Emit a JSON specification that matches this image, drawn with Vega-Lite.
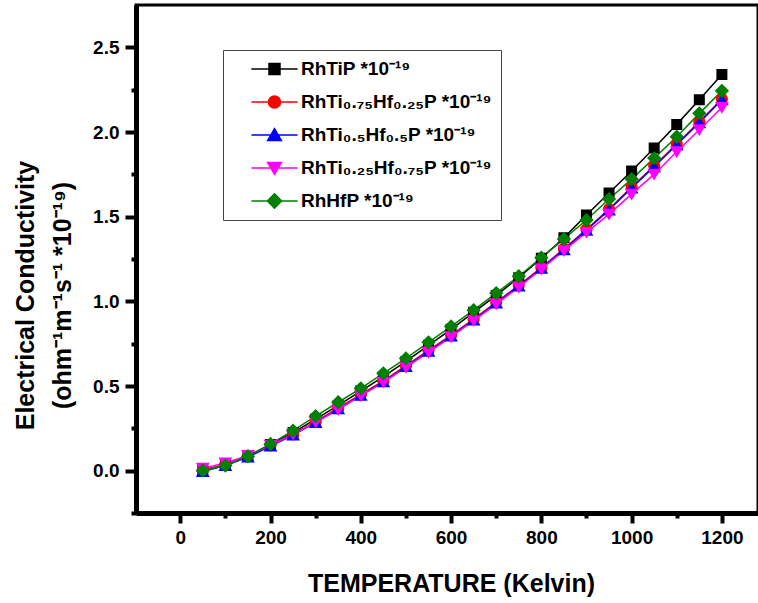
{
  "$schema": "https://vega.github.io/schema/vega-lite/v6.json",
  "width": 622,
  "height": 508,
  "autosize": {"type": "none"},
  "padding": {"left": 136, "top": 5, "right": 0, "bottom": 90},
  "background": "white",
  "config": {
    "view": {"stroke": "black", "strokeWidth": 3},
    "font": "Liberation Sans",
    "axis": {
      "grid": false,
      "domainColor": "black",
      "domainWidth": 5,
      "tickColor": "black",
      "tickWidth": 4,
      "labelFont": "Liberation Sans",
      "labelFontWeight": "bold",
      "labelFontSize": 19,
      "labelColor": "black",
      "labelPadding": 5,
      "titleFont": "Liberation Sans",
      "titleFontWeight": "bold",
      "titleColor": "black",
      "titleFontSize": 25
    },
    "legend": {
      "orient": "none",
      "legendX": 87,
      "legendY": 45,
      "title": null,
      "strokeColor": "#444444",
      "padding": 9,
      "symbolOffset": 33,
      "symbolSize": 121,
      "symbolStrokeWidth": 1.5,
      "labelOffset": 17,
      "labelFont": "Liberation Sans",
      "labelFontWeight": "bold",
      "labelFontSize": 19,
      "labelColor": "black",
      "labelLimit": 0,
      "clipHeight": 20,
      "rowPadding": 13
    }
  },
  "data": {
    "values": [
      {"material": "RhTiP", "temperature": 50, "sigma": 0.005},
      {"material": "RhTiP", "temperature": 100, "sigma": 0.03},
      {"material": "RhTiP", "temperature": 150, "sigma": 0.085},
      {"material": "RhTiP", "temperature": 200, "sigma": 0.155},
      {"material": "RhTiP", "temperature": 250, "sigma": 0.225},
      {"material": "RhTiP", "temperature": 300, "sigma": 0.305},
      {"material": "RhTiP", "temperature": 350, "sigma": 0.385},
      {"material": "RhTiP", "temperature": 400, "sigma": 0.47},
      {"material": "RhTiP", "temperature": 450, "sigma": 0.555},
      {"material": "RhTiP", "temperature": 500, "sigma": 0.645},
      {"material": "RhTiP", "temperature": 550, "sigma": 0.74},
      {"material": "RhTiP", "temperature": 600, "sigma": 0.835},
      {"material": "RhTiP", "temperature": 650, "sigma": 0.935},
      {"material": "RhTiP", "temperature": 700, "sigma": 1.035},
      {"material": "RhTiP", "temperature": 750, "sigma": 1.14},
      {"material": "RhTiP", "temperature": 800, "sigma": 1.255},
      {"material": "RhTiP", "temperature": 850, "sigma": 1.375},
      {"material": "RhTiP", "temperature": 900, "sigma": 1.51},
      {"material": "RhTiP", "temperature": 950, "sigma": 1.64},
      {"material": "RhTiP", "temperature": 1000, "sigma": 1.77},
      {"material": "RhTiP", "temperature": 1050, "sigma": 1.905},
      {"material": "RhTiP", "temperature": 1100, "sigma": 2.045},
      {"material": "RhTiP", "temperature": 1150, "sigma": 2.19},
      {"material": "RhTiP", "temperature": 1200, "sigma": 2.34},
      {"material": "RhTi0.75Hf0.25P", "temperature": 50, "sigma": 0.005},
      {"material": "RhTi0.75Hf0.25P", "temperature": 100, "sigma": 0.035},
      {"material": "RhTi0.75Hf0.25P", "temperature": 150, "sigma": 0.085},
      {"material": "RhTi0.75Hf0.25P", "temperature": 200, "sigma": 0.15},
      {"material": "RhTi0.75Hf0.25P", "temperature": 250, "sigma": 0.215},
      {"material": "RhTi0.75Hf0.25P", "temperature": 300, "sigma": 0.29},
      {"material": "RhTi0.75Hf0.25P", "temperature": 350, "sigma": 0.37},
      {"material": "RhTi0.75Hf0.25P", "temperature": 400, "sigma": 0.45},
      {"material": "RhTi0.75Hf0.25P", "temperature": 450, "sigma": 0.53},
      {"material": "RhTi0.75Hf0.25P", "temperature": 500, "sigma": 0.62},
      {"material": "RhTi0.75Hf0.25P", "temperature": 550, "sigma": 0.71},
      {"material": "RhTi0.75Hf0.25P", "temperature": 600, "sigma": 0.8},
      {"material": "RhTi0.75Hf0.25P", "temperature": 650, "sigma": 0.895},
      {"material": "RhTi0.75Hf0.25P", "temperature": 700, "sigma": 0.995},
      {"material": "RhTi0.75Hf0.25P", "temperature": 750, "sigma": 1.095},
      {"material": "RhTi0.75Hf0.25P", "temperature": 800, "sigma": 1.2},
      {"material": "RhTi0.75Hf0.25P", "temperature": 850, "sigma": 1.31},
      {"material": "RhTi0.75Hf0.25P", "temperature": 900, "sigma": 1.425},
      {"material": "RhTi0.75Hf0.25P", "temperature": 950, "sigma": 1.545},
      {"material": "RhTi0.75Hf0.25P", "temperature": 1000, "sigma": 1.675},
      {"material": "RhTi0.75Hf0.25P", "temperature": 1050, "sigma": 1.8},
      {"material": "RhTi0.75Hf0.25P", "temperature": 1100, "sigma": 1.93},
      {"material": "RhTi0.75Hf0.25P", "temperature": 1150, "sigma": 2.06},
      {"material": "RhTi0.75Hf0.25P", "temperature": 1200, "sigma": 2.195},
      {"material": "RhTi0.5Hf0.5P", "temperature": 50, "sigma": -0.005},
      {"material": "RhTi0.5Hf0.5P", "temperature": 100, "sigma": 0.03},
      {"material": "RhTi0.5Hf0.5P", "temperature": 150, "sigma": 0.08},
      {"material": "RhTi0.5Hf0.5P", "temperature": 200, "sigma": 0.145},
      {"material": "RhTi0.5Hf0.5P", "temperature": 250, "sigma": 0.21},
      {"material": "RhTi0.5Hf0.5P", "temperature": 300, "sigma": 0.285},
      {"material": "RhTi0.5Hf0.5P", "temperature": 350, "sigma": 0.365},
      {"material": "RhTi0.5Hf0.5P", "temperature": 400, "sigma": 0.445},
      {"material": "RhTi0.5Hf0.5P", "temperature": 450, "sigma": 0.525},
      {"material": "RhTi0.5Hf0.5P", "temperature": 500, "sigma": 0.615},
      {"material": "RhTi0.5Hf0.5P", "temperature": 550, "sigma": 0.705},
      {"material": "RhTi0.5Hf0.5P", "temperature": 600, "sigma": 0.795},
      {"material": "RhTi0.5Hf0.5P", "temperature": 650, "sigma": 0.89},
      {"material": "RhTi0.5Hf0.5P", "temperature": 700, "sigma": 0.99},
      {"material": "RhTi0.5Hf0.5P", "temperature": 750, "sigma": 1.09},
      {"material": "RhTi0.5Hf0.5P", "temperature": 800, "sigma": 1.195},
      {"material": "RhTi0.5Hf0.5P", "temperature": 850, "sigma": 1.305},
      {"material": "RhTi0.5Hf0.5P", "temperature": 900, "sigma": 1.42},
      {"material": "RhTi0.5Hf0.5P", "temperature": 950, "sigma": 1.54},
      {"material": "RhTi0.5Hf0.5P", "temperature": 1000, "sigma": 1.67},
      {"material": "RhTi0.5Hf0.5P", "temperature": 1050, "sigma": 1.795},
      {"material": "RhTi0.5Hf0.5P", "temperature": 1100, "sigma": 1.925},
      {"material": "RhTi0.5Hf0.5P", "temperature": 1150, "sigma": 2.055},
      {"material": "RhTi0.5Hf0.5P", "temperature": 1200, "sigma": 2.19},
      {"material": "RhTi0.25Hf0.75P", "temperature": 50, "sigma": 0.015},
      {"material": "RhTi0.25Hf0.75P", "temperature": 100, "sigma": 0.045},
      {"material": "RhTi0.25Hf0.75P", "temperature": 150, "sigma": 0.09},
      {"material": "RhTi0.25Hf0.75P", "temperature": 200, "sigma": 0.15},
      {"material": "RhTi0.25Hf0.75P", "temperature": 250, "sigma": 0.215},
      {"material": "RhTi0.25Hf0.75P", "temperature": 300, "sigma": 0.286},
      {"material": "RhTi0.25Hf0.75P", "temperature": 350, "sigma": 0.36},
      {"material": "RhTi0.25Hf0.75P", "temperature": 400, "sigma": 0.443},
      {"material": "RhTi0.25Hf0.75P", "temperature": 450, "sigma": 0.522},
      {"material": "RhTi0.25Hf0.75P", "temperature": 500, "sigma": 0.61},
      {"material": "RhTi0.25Hf0.75P", "temperature": 550, "sigma": 0.699},
      {"material": "RhTi0.25Hf0.75P", "temperature": 600, "sigma": 0.79},
      {"material": "RhTi0.25Hf0.75P", "temperature": 650, "sigma": 0.886},
      {"material": "RhTi0.25Hf0.75P", "temperature": 700, "sigma": 0.984},
      {"material": "RhTi0.25Hf0.75P", "temperature": 750, "sigma": 1.083},
      {"material": "RhTi0.25Hf0.75P", "temperature": 800, "sigma": 1.19},
      {"material": "RhTi0.25Hf0.75P", "temperature": 850, "sigma": 1.299},
      {"material": "RhTi0.25Hf0.75P", "temperature": 900, "sigma": 1.407},
      {"material": "RhTi0.25Hf0.75P", "temperature": 950, "sigma": 1.515},
      {"material": "RhTi0.25Hf0.75P", "temperature": 1000, "sigma": 1.633},
      {"material": "RhTi0.25Hf0.75P", "temperature": 1050, "sigma": 1.751},
      {"material": "RhTi0.25Hf0.75P", "temperature": 1100, "sigma": 1.883},
      {"material": "RhTi0.25Hf0.75P", "temperature": 1150, "sigma": 2.013},
      {"material": "RhTi0.25Hf0.75P", "temperature": 1200, "sigma": 2.145},
      {"material": "RhHfP", "temperature": 50, "sigma": 0.0},
      {"material": "RhHfP", "temperature": 100, "sigma": 0.03},
      {"material": "RhHfP", "temperature": 150, "sigma": 0.085},
      {"material": "RhHfP", "temperature": 200, "sigma": 0.158},
      {"material": "RhHfP", "temperature": 250, "sigma": 0.236},
      {"material": "RhHfP", "temperature": 300, "sigma": 0.322},
      {"material": "RhHfP", "temperature": 350, "sigma": 0.404},
      {"material": "RhHfP", "temperature": 400, "sigma": 0.486},
      {"material": "RhHfP", "temperature": 450, "sigma": 0.575},
      {"material": "RhHfP", "temperature": 500, "sigma": 0.663},
      {"material": "RhHfP", "temperature": 550, "sigma": 0.758},
      {"material": "RhHfP", "temperature": 600, "sigma": 0.852},
      {"material": "RhHfP", "temperature": 650, "sigma": 0.948},
      {"material": "RhHfP", "temperature": 700, "sigma": 1.049},
      {"material": "RhHfP", "temperature": 750, "sigma": 1.148},
      {"material": "RhHfP", "temperature": 800, "sigma": 1.258},
      {"material": "RhHfP", "temperature": 850, "sigma": 1.368},
      {"material": "RhHfP", "temperature": 900, "sigma": 1.48},
      {"material": "RhHfP", "temperature": 950, "sigma": 1.604},
      {"material": "RhHfP", "temperature": 1000, "sigma": 1.722},
      {"material": "RhHfP", "temperature": 1050, "sigma": 1.846},
      {"material": "RhHfP", "temperature": 1100, "sigma": 1.972},
      {"material": "RhHfP", "temperature": 1150, "sigma": 2.11},
      {"material": "RhHfP", "temperature": 1200, "sigma": 2.243}
    ]
  },
  "encoding": {
    "x": {
      "field": "temperature",
      "type": "quantitative",
      "scale": {"domain": [-98, 1280], "nice": false, "zero": false},
      "axis": {
        "orient": "bottom",
        "domainWidth": 5,
        "domainColor": "black",
        "tickWidth": 4,
        "values": [0, 100, 200, 300, 400, 500, 600, 700, 800, 900, 1000, 1100, 1200],
        "format": "d",
        "labelExpr": "datum.value % 200 === 0 ? datum.label : ''",
        "tickSize": {"condition": {"test": "datum.value % 200 === 0", "value": 10}, "value": 5},
        "title": "TEMPERATURE (Kelvin)",
        "titleX": 315,
        "titleY": 78,
        "titleBaseline": "alphabetic",
        "titleAlign": "center"
      }
    },
    "y": {
      "field": "sigma",
      "type": "quantitative",
      "scale": {"domain": [-0.25, 2.75], "nice": false, "zero": false},
      "axis": {
        "domainWidth": 5,
        "domainColor": "black",
        "tickWidth": 4,
        "values": [-0.25, 0, 0.25, 0.5, 0.75, 1, 1.25, 1.5, 1.75, 2, 2.25, 2.5],
        "format": ".1f",
        "labelExpr": "(datum.value * 2) % 1 === 0 ? datum.label : ''",
        "tickSize": {"condition": {"test": "(datum.value * 2) % 1 === 0", "value": 11}, "value": 5},
        "labelPadding": 6,
        "title": ["Electrical Conductivity", "(ohm⁻¹m⁻¹s⁻¹ *10⁻¹⁹)"],
        "titleX": -103,
        "titleY": 290,
        "titleAngle": -90,
        "titleBaseline": "alphabetic",
        "titleAlign": "center",
        "titleLineHeight": 37
      }
    },
    "color": {
      "field": "material",
      "type": "nominal",
      "scale": {
        "domain": ["RhTiP", "RhTi0.75Hf0.25P", "RhTi0.5Hf0.5P", "RhTi0.25Hf0.75P", "RhHfP"],
        "range": ["#000000", "#FF0000", "#0000FF", "#FF00FF", "#008000"]
      },
      "legend": {
        "labelExpr": "datum.value === 'RhTiP' ? 'RhTiP *10⁻¹⁹' : datum.value === 'RhTi0.75Hf0.25P' ? 'RhTi₀.₇₅Hf₀.₂₅P *10⁻¹⁹' : datum.value === 'RhTi0.5Hf0.5P' ? 'RhTi₀.₅Hf₀.₅P *10⁻¹⁹' : datum.value === 'RhTi0.25Hf0.75P' ? 'RhTi₀.₂₅Hf₀.₇₅P *10⁻¹⁹' : 'RhHfP *10⁻¹⁹'"
      }
    }
  },
  "layer": [
    {
      "mark": {"type": "line", "strokeWidth": 1.5}
    },
    {
      "mark": {"type": "point", "filled": true, "opacity": 1, "size": 121},
      "encoding": {
        "shape": {
          "field": "material",
          "type": "nominal",
          "scale": {
            "domain": ["RhTiP", "RhTi0.75Hf0.25P", "RhTi0.5Hf0.5P", "RhTi0.25Hf0.75P", "RhHfP"],
            "range": [
              "M-4.2,0H4.2M-1,-1H1V1H-1Z",
              "M-4.2,0H4.2M1.1,0A1.1,1.1 0 1,1 -1.1,0A1.1,1.1 0 1,1 1.1,0Z",
              "M-4.2,0H4.2M0,-1.15L1.25,1L-1.25,1Z",
              "M-4.2,0H4.2M0,1.15L1.25,-1L-1.25,-1Z",
              "M-4.2,0H4.2M0,-1.3L1.3,0L0,1.3L-1.3,0Z"
            ]
          },
          "legend": {
            "labelExpr": "datum.value === 'RhTiP' ? 'RhTiP *10⁻¹⁹' : datum.value === 'RhTi0.75Hf0.25P' ? 'RhTi₀.₇₅Hf₀.₂₅P *10⁻¹⁹' : datum.value === 'RhTi0.5Hf0.5P' ? 'RhTi₀.₅Hf₀.₅P *10⁻¹⁹' : datum.value === 'RhTi0.25Hf0.75P' ? 'RhTi₀.₂₅Hf₀.₇₅P *10⁻¹⁹' : 'RhHfP *10⁻¹⁹'"
          }
        }
      }
    }
  ]
}
